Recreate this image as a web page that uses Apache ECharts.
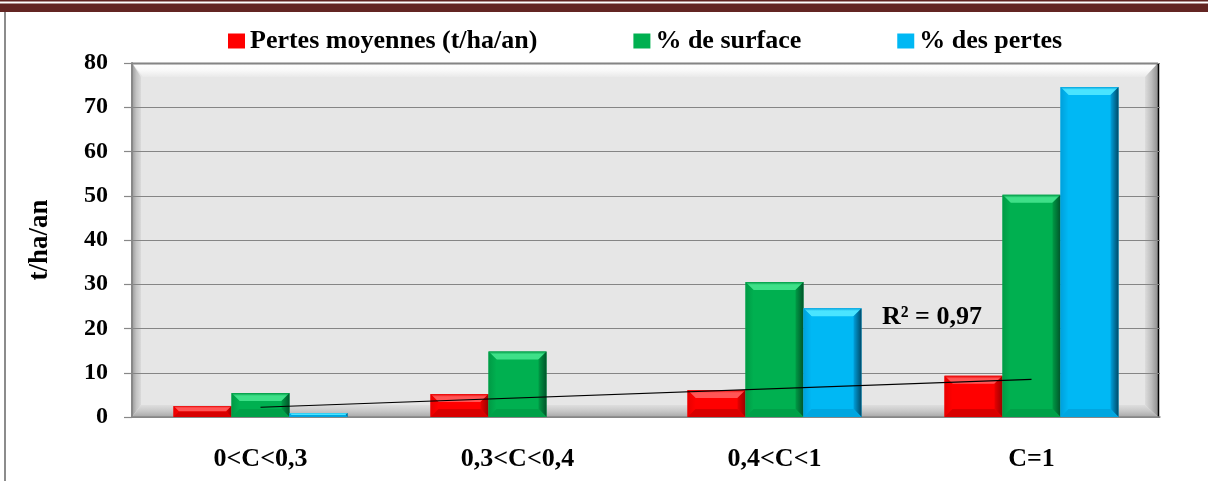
<!DOCTYPE html>
<html>
<head>
<meta charset="utf-8">
<script src="https://cdn.jsdelivr.net/npm/echarts@6/dist/echarts.min.js"></script>
<style>
  html, body { margin: 0; padding: 0; background: #fff; }
  #chart { width: 1208px; height: 481px; }
</style>
</head>
<body>
<div id="chart"></div>
<script>
// Erosion classes and their values
const categories = ['0<C<0,3', '0,3<C<0,4', '0,4<C<1', 'C=1'];
const pertesMoyennes = [2.5, 5.2, 6.1, 9.3];     // t/ha/an
const pctSurface = [5.4, 14.8, 30.5, 50.2];      // %
const pctPertes = [0.9, 0, 24.6, 74.6];          // %
const seriesNames = ['Pertes moyennes (t/ha/an)', '% de surface', '% des pertes'];
const yTicks = { min: 0, max: 80, interval: 10 };
// Linear trend of the mean losses, from first to last class
const trendEnds = [2.2, 8.5];
const r2Label = 'R² = 0,97';

const FONT = '"Liberation Serif", "Times New Roman", serif';
const G = { left: 132, right: 48, top: 63, bottom: 64 };
const W = 1208, H = 481;
const px0 = G.left, px1 = W - G.right - 2, py0 = G.top, py1 = H - G.bottom;
const BEV = 11; // depth of the wall bevel

// colour sets for the bevelled bars: base, light (top), side, dark (right), bottom
const palettes = [
  { base: '#ff0000', light: '#ff5555', side: '#e80000', dark: '#9a0000', bottom: '#d80000' },
  { base: '#00b050', light: '#3ee088', side: '#009a45', dark: '#00552a', bottom: '#00a048' },
  { base: '#00b8f4', light: '#4ae4ff', side: '#00a0dc', dark: '#004a68', bottom: '#00a6e0' }
];

const BAR_FRAC = 58 / 257;

function bevelBar(seriesIdx) {
  return function (params, api) {
    const ci = api.value(0);
    const v = api.value(1);
    if (!(v > 0)) return null;
    const band = api.size([1, 0])[0];
    const bw = band * BAR_FRAC;
    const c = api.coord([ci, v]);
    const b = api.coord([ci, 0]);
    const x0 = c[0] + (seriesIdx - 1.5) * bw;
    const x1 = x0 + bw;
    const y0 = c[1], y1 = b[1];
    const h = y1 - y0;
    const p = palettes[seriesIdx];
    const e = Math.max(0, Math.min(8, h / 2, bw / 5));
    const children = [
      { type: 'rect', shape: { x: x0, y: y0, width: bw, height: h }, style: { fill: p.base } }
    ];
    if (e > 0.5) {
      children.push(
        { type: 'polygon', shape: { points: [[x0, y0], [x1, y0], [x1 - e, y0 + e], [x0 + e, y0 + e]] },
          style: { fill: new echarts.graphic.LinearGradient(0, 0, 0, 1, [{ offset: 0, color: p.side }, { offset: 0.35, color: p.light }, { offset: 1, color: p.light }]) } },
        { type: 'polygon', shape: { points: [[x0, y0], [x0 + e, y0 + e], [x0 + e, y1 - e], [x0, y1]] },
          style: { fill: new echarts.graphic.LinearGradient(0, 0, 1, 0, [{ offset: 0, color: p.side }, { offset: 1, color: p.base }]) } },
        { type: 'polygon', shape: { points: [[x1, y0], [x1, y1], [x1 - e, y1 - e], [x1 - e, y0 + e]] },
          style: { fill: new echarts.graphic.LinearGradient(0, 0, 1, 0, [{ offset: 0, color: p.side }, { offset: 1, color: p.dark }]) } },
        { type: 'polygon', shape: { points: [[x0, y1], [x1, y1], [x1 - e, y1 - e], [x0 + e, y1 - e]] },
          style: { fill: p.bottom } }
      );
    }
    return { type: 'group', children: children };
  };
}

function barSeries(idx, values) {
  return {
    name: seriesNames[idx],
    type: 'custom',
    renderItem: bevelBar(idx),
    itemStyle: { color: palettes[idx].base },
    encode: { x: 0, y: 1 },
    data: values.map((v, i) => [i, v]),
    z: 3
  };
}

// plot-area back wall, side walls and floor
const grad = (x1, y1, x2, y2, stops) => new echarts.graphic.LinearGradient(x1, y1, x2, y2, stops.map((c, i) => ({ offset: i / (stops.length - 1), color: c })));
const decor = [
  { type: 'rect', shape: { x: px0, y: py0, width: px1 - px0, height: py1 - py0 }, style: { fill: '#e6e6e6' } },
  { type: 'polygon', shape: { points: [[px0, py0], [px1, py0], [px1 - BEV, py0 + 14], [px0 + BEV, py0 + 14]] },
    style: { fill: grad(0, 0, 0, 1, ['#ffffff', '#fafafa', '#e9e9e9']) } },
  { type: 'polygon', shape: { points: [[px0, py0], [px0 + 9, py0 + 14], [px0 + 9, py1 - 12], [px0, py1]] },
    style: { fill: grad(0, 0, 1, 0, ['#9a9a9a', '#c4c4c4', '#dadada']) } },
  { type: 'polygon', shape: { points: [[px1, py0], [px1, py1], [px1 - 13, py1 - 12], [px1 - 13, py0 + 14]] },
    style: { fill: grad(0, 0, 1, 0, ['#dcdcdc', '#bdbdbd', '#8e8e8e']) } },
  { type: 'polygon', shape: { points: [[px0, py1], [px0 + 9, py1 - 12], [px1 - 13, py1 - 12], [px1, py1]] },
    style: { fill: grad(0, 0, 0, 1, ['#dedede', '#c8c8c8', '#a8a8a8']) } },
  { type: 'line', shape: { x1: px0, y1: py0 + 0.5, x2: px1, y2: py0 + 0.5 }, style: { stroke: '#000', lineWidth: 1.5 } },
  { type: 'line', shape: { x1: px1 + 0.5, y1: py0, x2: px1 + 0.5, y2: py1 }, style: { stroke: '#000', lineWidth: 1.5 } }
].map(el => Object.assign(el, { z: -10, silent: true }));

// page frame: dark band at the top and rule on the left
const frame = [
  { type: 'rect', shape: { x: 0, y: 0, width: W, height: 1.5 }, style: { fill: '#632523' } },
  { type: 'rect', shape: { x: 0, y: 3.5, width: W, height: 8.5 }, style: { fill: '#632523' } },
  { type: 'rect', shape: { x: 4, y: 12, width: 2, height: H - 12 }, style: { fill: '#8c8c8c' } }
].map(el => Object.assign(el, { z: -10, silent: true }));

const chart = echarts.init(document.getElementById('chart'), null, { renderer: 'canvas' });
chart.setOption({
  animation: false,
  backgroundColor: '#ffffff',
  textStyle: { fontFamily: FONT },
  grid: G,
  legend: {
    data: seriesNames,
    top: 23,
    left: 223,
    itemGap: 96,
    itemWidth: 17,
    itemHeight: 15,
    icon: 'rect',
    textStyle: { fontFamily: FONT, fontSize: 26, fontWeight: 'bold', color: '#000' }
  },
  xAxis: {
    type: 'category',
    data: categories,
    axisLine: { lineStyle: { color: '#888', width: 1.5 } },
    axisTick: { show: false },
    axisLabel: { margin: 29, fontFamily: FONT, fontSize: 26, fontWeight: 'bold', color: '#000' },
    z: 1
  },
  yAxis: {
    type: 'value',
    min: yTicks.min,
    max: yTicks.max,
    interval: yTicks.interval,
    name: 't/ha/an',
    nameLocation: 'middle',
    nameGap: 78,
    nameRotate: 90,
    nameTextStyle: { fontFamily: FONT, fontSize: 27, fontWeight: 'bold', color: '#000' },
    axisLine: { show: true, lineStyle: { color: '#888', width: 2 } },
    axisTick: { show: true, length: 8, lineStyle: { color: '#888', width: 1.2 } },
    splitLine: { lineStyle: { color: '#858585', width: 1.2 } },
    axisLabel: { margin: 24, fontFamily: FONT, fontSize: 24, fontWeight: 'bold', color: '#000' },
    z: 1
  },
  graphic: decor.concat(frame, [
    { type: 'text', left: 882, top: 304, z: 10,
      style: { text: r2Label, font: 'bold 26px ' + FONT, fill: '#000' } }
  ]),
  series: [
    barSeries(0, pertesMoyennes),
    barSeries(1, pctSurface),
    barSeries(2, pctPertes),
    {
      name: 'trend',
      type: 'line',
      data: [[0, trendEnds[0]], [categories.length - 1, trendEnds[1]]],
      symbol: 'none',
      lineStyle: { color: '#000', width: 1.2 },
      z: 6,
      silent: true
    }
  ]
});
</script>
</body>
</html>
